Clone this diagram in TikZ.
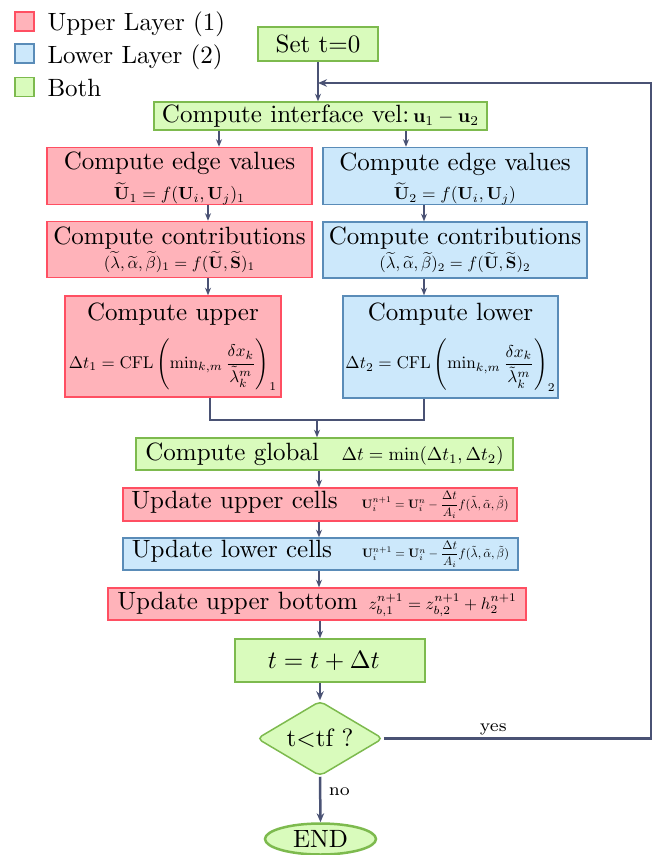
\documentclass[tikz,border=0pt]{standalone}
\usepackage{amsmath}
\usepackage{graphicx}
\usetikzlibrary{shapes.geometric,arrows.meta,calc}

\definecolor{upfill}{HTML}{FFB3BA}
\definecolor{updraw}{HTML}{FF4F62}
\definecolor{lofill}{HTML}{CCE8FB}
\definecolor{lodraw}{HTML}{5A8CB8}
\definecolor{bofill}{HTML}{D9FBBC}
\definecolor{bodraw}{HTML}{7DBA4E}
\definecolor{flow}{HTML}{4A5274}

% a formula set to a given width
\newcommand{\fw}[2]{\resizebox{#1}{!}{$#2$}}

\begin{document}
\begin{tikzpicture}[x=0.4pt,y=-0.4pt,
  box/.style={draw, line width=0.6pt, inner sep=0pt, align=center},
  sz/.style 2 args={minimum width=#1*0.4pt, minimum height=#2*0.4pt},
  upperbox/.style={box, fill=upfill, draw=updraw},
  lowerbox/.style={box, fill=lofill, draw=lodraw},
  bothbox/.style={box, fill=bofill, draw=bodraw},
  arr/.style={draw=flow, line width=0.6pt, -{Stealth[length=3pt,width=2.4pt]}},
  arrthick/.style={draw=flow, line width=1pt, -{Stealth[length=3.6pt,width=3pt]}},
  plainline/.style={draw=flow, line width=0.6pt},
  lbl/.style={inner sep=0pt, font=\scriptsize},
]
\useasboundingbox (0,0) rectangle (653,855);

% legend
\node[upperbox, sz={19}{19}] (keyU) at (24.5,21.5) {};
\node[lowerbox, sz={19}{19}] (keyL) at (24.5,53.5) {};
\node[bothbox,  sz={19}{19}] (keyB) at (24.5,87) {};
\node[inner sep=0pt, anchor=base west] (keyUt) at (47,30) {Upper Layer (1)};
\node[inner sep=0pt, anchor=base west] (keyLt) at (47,63) {Lower Layer (2)};
\node[inner sep=0pt, anchor=base west] (keyBt) at (47,96) {Both};

% flow boxes
\node[bothbox, sz={120}{34}] (set) at (318,44) {Set t=0};
\node[bothbox, sz={333}{28}] (iface) at (320.5,116)
  {Compute interface vel:\hspace{1.5pt}\fw{26.4pt}{\mathbf{u}_1-\mathbf{u}_2}};

\node[upperbox, sz={265}{56}] (edgeU) at (179.5,176)
  {\rule{0pt}{9pt}Compute edge values\\[-0.2pt]
   \fw{52.4pt}{\widetilde{\mathbf{U}}_1=f(\mathbf{U}_i,\mathbf{U}_j)_1}};
\node[lowerbox, sz={264}{56}] (edgeL) at (455,176)
  {\rule{0pt}{9pt}Compute edge values\\[-0.2pt]
   \fw{48.8pt}{\widetilde{\mathbf{U}}_2=f(\mathbf{U}_i,\mathbf{U}_j)}};

\node[upperbox, sz={265}{56}] (contU) at (179.5,249.5)
  {Compute contributions\\[-2.4pt]
   \fw{60.4pt}{(\widetilde{\lambda},\widetilde{\alpha},\widetilde{\beta})_1=f(\widetilde{\mathbf{U}},\widetilde{\mathbf{S}})_1}};
\node[lowerbox, sz={264}{56}] (contL) at (455,250)
  {Compute contributions\\[-2.4pt]
   \fw{60.4pt}{(\widetilde{\lambda},\widetilde{\alpha},\widetilde{\beta})_2=f(\widetilde{\mathbf{U}},\widetilde{\mathbf{S}})_2}};

\node[upperbox, sz={216}{101}] (dtU) at (173,346.5)
  {Compute upper\\[4.4pt]
   \fw{83.2pt}{\Delta t_1=\mathrm{CFL}\left(\min\nolimits_{k,m}\dfrac{\delta x_k}{\tilde{\lambda}_k^m}\right)_1}};
\node[lowerbox, sz={215}{102}] (dtL) at (450.5,347)
  {Compute lower\\[4.4pt]
   \fw{84pt}{\Delta t_2=\mathrm{CFL}\left(\min\nolimits_{k,m}\dfrac{\delta x_k}{\tilde{\lambda}_k^m}\right)_2}};

\node[bothbox, sz={377}{32}] (glob) at (324.5,454)
  {Compute global\hspace{9pt}\fw{64.8pt}{\Delta t=\min(\Delta t_1,\Delta t_2)}};
\node[upperbox, sz={394}{33}] (updU) at (320,504.5)
  {Update upper cells\hspace{9.6pt}\fw{58.8pt}{\mathbf{U}_i^{n+1}=\mathbf{U}_i^{n}-\dfrac{\Delta t}{A_i}f(\tilde{\lambda},\tilde{\alpha},\tilde{\beta})}};
\node[lowerbox, sz={395}{32}] (updL) at (320.5,554)
  {Update lower cells\hspace{12pt}\fw{58.8pt}{\mathbf{U}_i^{n+1}=\mathbf{U}_i^{n}-\dfrac{\Delta t}{A_i}f(\tilde{\lambda},\tilde{\alpha},\tilde{\beta})}};
\node[upperbox, sz={418}{32}] (updB) at (317,604)
  {Update upper bottom\hspace{4.4pt}\fw{59.2pt}{z_{b,1}^{n+1}=z_{b,2}^{n+1}+h_2^{n+1}}};

\node[bothbox, sz={190}{43}] (tstep) at (330,660.5) {$t=t+\Delta t$\hspace{5pt}};
\node[bothbox, diamond, aspect=1.68, rounded corners=2pt, sz={126}{75}] (test) at (320,738.5) {t$<$tf ?};
\node[bothbox, ellipse, line width=1pt, sz={111}{31}] (stop) at (320.5,839) {END};

% column positions of the connectors
\coordinate (xUa) at (219,0);
\coordinate (xLa) at (406,0);
\coordinate (xU) at (208,0);
\coordinate (xL) at (424,0);
\coordinate (xUo) at (210,0);
\coordinate (xM) at (319,0);
\coordinate (join) at (317,420);
\coordinate (loopR) at (651,83);

% connectors
\draw[arr] (set.south) -- (set.south |- iface.north);
\draw[arr] (iface.south -| xUa) -- (edgeU.north -| xUa);
\draw[arr] (iface.south -| xLa) -- (edgeL.north -| xLa);
\draw[arr] (edgeU.south -| xU) -- (contU.north -| xU);
\draw[arr] (edgeL.south -| xL) -- (contL.north -| xL);
\draw[arr] (contU.south -| xU) -- (dtU.north -| xU);
\draw[arr] (contL.south -| xL) -- (dtL.north -| xL);
\draw[plainline] (dtU.south -| xUo) -- (xUo |- join) -- (xL |- join) -- (dtL.south -| xL);
\draw[arr] (join) -- (join |- glob.north);
\draw[arr] (glob.south -| xM) -- (updU.north -| xM);
\draw[arr] (updU.south -| xM) -- (updL.north -| xM);
\draw[arr] (updL.south -| xM) -- (updB.north -| xM);
\draw[arr, line width=0.8pt] (updB.south -| test.north) -- (tstep.north -| test.north);
\draw[arrthick] (tstep.south -| test.north) -- (test.north);
\draw[arrthick] (test.south) -- node[lbl, anchor=west, xshift=3pt, pos=0.33] {no} (stop.north);
\draw[arrthick] (test.east) -- node[lbl, above=1pt, pos=0.41] {yes} (loopR |- test.east)
  -- (loopR) -- (loopR -| set.south);
\end{tikzpicture}
\end{document}
